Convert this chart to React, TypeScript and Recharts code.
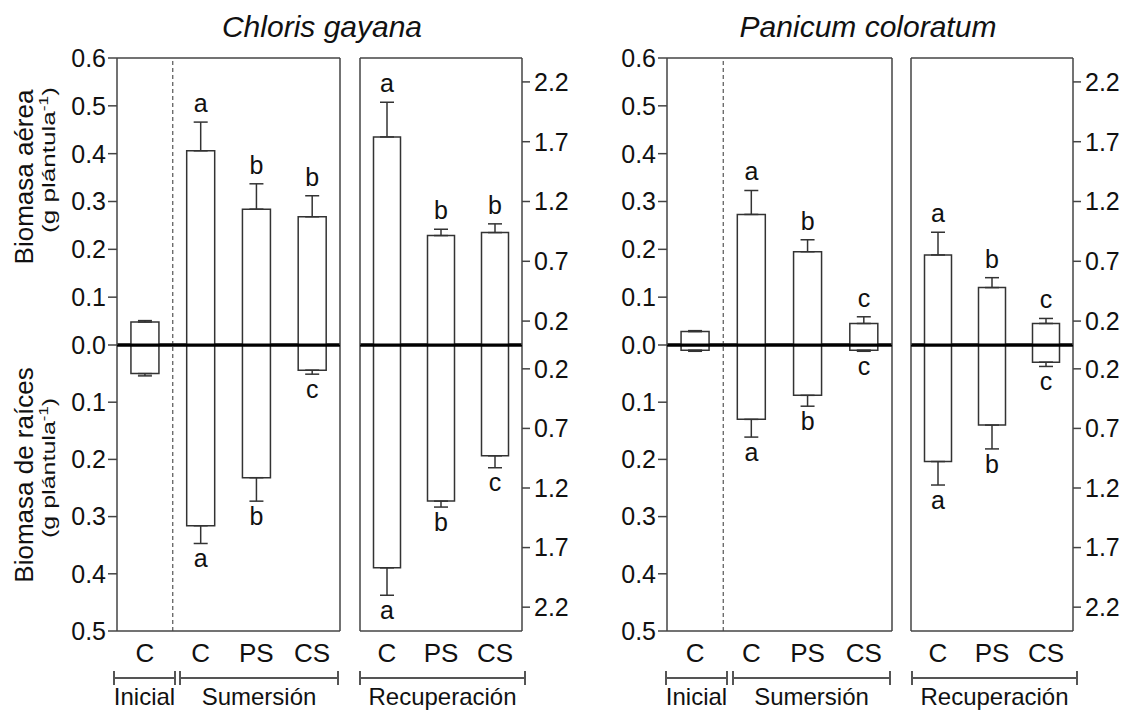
import React from "react";
import {
  Bar,
  ComposedChart,
  ErrorBar,
  LabelList,
  Line,
  ReferenceLine,
  XAxis,
  YAxis,
} from "recharts";

const FONT = "'Liberation Sans', Arial, Helvetica, sans-serif";
const INK = "#111";
const BOX = "#444";

// categories (group|treatment)
const SUM_CATS = ["Inicial|C", "Sumersión|C", "Sumersión|PS", "Sumersión|CS"];
const REC_CATS = ["Recuperación|C", "Recuperación|PS", "Recuperación|CS"];

// axis ticks / ranges
const SUM_UP_TICKS = [0, 0.1, 0.2, 0.3, 0.4, 0.5, 0.6];
const SUM_DOWN_TICKS = [0.1, 0.2, 0.3, 0.4, 0.5];
const REC_TICKS = [0.2, 0.7, 1.2, 1.7, 2.2];
const SUM_UP_MAX = 0.6;
const SUM_DOWN_MAX = 0.5;
const REC_MAX = 2.4;

// Chloris gayana (g plántula-1), error = ES
const CG_AEREA_SUM = [0.048, 0.406, 0.284, 0.268];
const CG_AEREA_SUM_ES = [0.003, 0.06, 0.053, 0.044];
const CG_AEREA_SUM_LET = ["", "a", "b", "b"];
const CG_RAIZ_SUM = [0.05, 0.316, 0.232, 0.044];
const CG_RAIZ_SUM_ES = [0.004, 0.031, 0.041, 0.007];
const CG_RAIZ_SUM_LET = ["", "a", "b", "c"];
const CG_AEREA_REC = [1.74, 0.915, 0.94];
const CG_AEREA_REC_ES = [0.29, 0.053, 0.073];
const CG_AEREA_REC_LET = ["a", "b", "b"];
const CG_RAIZ_REC = [1.87, 1.31, 0.93];
const CG_RAIZ_REC_ES = [0.23, 0.05, 0.1];
const CG_RAIZ_REC_LET = ["a", "b", "c"];

// Panicum coloratum
const PC_AEREA_SUM = [0.028, 0.273, 0.195, 0.045];
const PC_AEREA_SUM_ES = [0.002, 0.05, 0.025, 0.014];
const PC_AEREA_SUM_LET = ["", "a", "b", "c"];
const PC_RAIZ_SUM = [0.009, 0.13, 0.088, 0.009];
const PC_RAIZ_SUM_ES = [0.002, 0.031, 0.019, 0.002];
const PC_RAIZ_SUM_LET = ["", "a", "b", "c"];
const PC_AEREA_REC = [0.753, 0.48, 0.18];
const PC_AEREA_REC_ES = [0.19, 0.083, 0.042];
const PC_AEREA_REC_LET = ["a", "b", "c"];
const PC_RAIZ_REC = [0.978, 0.672, 0.144];
const PC_RAIZ_REC_ES = [0.197, 0.2, 0.036];
const PC_RAIZ_REC_LET = ["a", "b", "c"];

// page layout (px)
const TOP = 58;
const ZERO = 345;
const BOTTOM = 631;

type Row = { cat: string; val: number; err: number; letter: string };

const rows = (cats: string[], vals: number[], errs: number[], letters: string[]): Row[] =>
  cats.map((cat, i) => ({ cat, val: vals[i], err: errs[i], letter: letters[i] }));

const fmt = (v: number) => v.toFixed(1);

// one half of a framed box: aerial part (up) or root part (down, reversed axis)
function Half({
  data,
  x0,
  x1,
  up,
  side,
  max,
  ticks,
  dashed = false,
}: {
  data: Row[];
  x0: number;
  x1: number;
  up: boolean;
  side: "left" | "right";
  max: number;
  ticks: number[];
  dashed?: boolean;
}) {
  // axes drawn only as frame lines get 1px (a 0px axis is not rendered)
  const leftW = side === "left" ? 117 : 1;
  const rightW = side === "right" ? 60 : 1;
  const topH = 1;
  const botH = up ? 1 : 44;
  const margin = up
    ? { top: 20, right: 2, bottom: 16, left: 2 }
    : { top: 4, right: 2, bottom: 0, left: 2 };
  const plotH = up ? ZERO - TOP : BOTTOM - ZERO;
  const width = margin.left + leftW + (x1 - x0) + rightW + margin.right;
  const height = margin.top + topH + plotH + botH + margin.bottom;
  const left = x0 - leftW - margin.left;
  const top = (up ? TOP : ZERO) - margin.top - topH;
  const yId = side === "left" ? "l" : "r";
  const boxLine = { stroke: BOX, strokeWidth: 1.5 };
  const zeroLine = { stroke: "#000", strokeWidth: 3 };
  const tickStyle = { fontSize: 25, fill: INK };

  return (
    <div style={{ position: "absolute", left, top }}>
      <ComposedChart width={width} height={height} data={data} margin={margin} barCategoryGap="25%">
        <XAxis
          xAxisId="b"
          dataKey="cat"
          orientation="bottom"
          height={botH}
          axisLine={up ? zeroLine : boxLine}
          tickLine={false}
          tick={up ? false : { fontSize: 26, fill: INK }}
          tickSize={6}
          tickMargin={7}
          interval={0}
          tickFormatter={(v) => String(v).split("|")[1]}
        />
        <XAxis
          xAxisId="t"
          dataKey="cat"
          orientation="top"
          height={topH}
          axisLine={up ? boxLine : zeroLine}
          tick={false}
          tickLine={false}
        />
        <YAxis
          yAxisId="l"
          orientation="left"
          type="number"
          width={leftW}
          domain={[0, max]}
          ticks={ticks}
          reversed={!up}
          interval={0}
          axisLine={boxLine}
          tick={side === "left" ? tickStyle : false}
          tickLine={side === "left" ? boxLine : false}
          tickSize={9}
          tickMargin={2}
          tickFormatter={fmt}
        />
        <YAxis
          yAxisId="r"
          orientation="right"
          type="number"
          width={rightW}
          domain={[0, max]}
          ticks={ticks}
          reversed={!up}
          interval={0}
          axisLine={boxLine}
          tick={side === "right" ? tickStyle : false}
          tickLine={side === "right" ? boxLine : false}
          tickSize={8}
          tickMargin={4}
          tickFormatter={fmt}
        />
        {dashed && (
          <ReferenceLine
            xAxisId="b"
            yAxisId={yId}
            x={data[0].cat}
            position="end"
            stroke="#555"
            strokeWidth={1.2}
            strokeDasharray="4 3"
          />
        )}
        <Bar
          xAxisId="b"
          yAxisId={yId}
          dataKey="val"
          fill="#fff"
          stroke="#333"
          strokeWidth={1.5}
          isAnimationActive={false}
        >
          <ErrorBar
            dataKey={(d: Row) => [0, d.err]}
            width={7}
            stroke="#333"
            strokeWidth={1.5}
            direction="y"
          />
        </Bar>
        <Line
          xAxisId="b"
          yAxisId={yId}
          dataKey={(d: Row) => d.val + d.err}
          stroke="none"
          dot={false}
          activeDot={false}
          legendType="none"
          isAnimationActive={false}
        >
          <LabelList
            dataKey="letter"
            position={up ? "top" : "bottom"}
            offset={up ? 10 : 6}
            fill={INK}
            fontSize={25}
          />
        </Line>
      </ComposedChart>
    </div>
  );
}

function Species({
  sum,
  rec,
  aereaSum,
  raizSum,
  aereaRec,
  raizRec,
}: {
  sum: [number, number];
  rec: [number, number];
  aereaSum: Row[];
  raizSum: Row[];
  aereaRec: Row[];
  raizRec: Row[];
}) {
  return (
    <>
      <Half data={raizSum} x0={sum[0]} x1={sum[1]} up={false} side="left" max={SUM_DOWN_MAX} ticks={SUM_DOWN_TICKS} dashed />
      <Half data={raizRec} x0={rec[0]} x1={rec[1]} up={false} side="right" max={REC_MAX} ticks={REC_TICKS} />
      <Half data={aereaSum} x0={sum[0]} x1={sum[1]} up side="left" max={SUM_UP_MAX} ticks={SUM_UP_TICKS} dashed />
      <Half data={aereaRec} x0={rec[0]} x1={rec[1]} up side="right" max={REC_MAX} ticks={REC_TICKS} />
    </>
  );
}

const BRACKETS = [
  { x1: 114, x2: 175, label: "Inicial" },
  { x1: 180, x2: 338, label: "Sumersión" },
  { x1: 360, x2: 525, label: "Recuperación" },
  { x1: 666, x2: 727, label: "Inicial" },
  { x1: 733, x2: 890, label: "Sumersión" },
  { x1: 912, x2: 1077, label: "Recuperación" },
];

function Annotations() {
  const by = 678;
  return (
    <svg
      width={1125}
      height={711}
      style={{ position: "absolute", left: 0, top: 0, pointerEvents: "none" }}
      fontFamily={FONT}
    >
      <text x={322} y={37} fontSize={30} fontStyle="italic" textAnchor="middle" fill={INK}>
        Chloris gayana
      </text>
      <text x={868} y={37} fontSize={30} fontStyle="italic" textAnchor="middle" fill={INK}>
        Panicum coloratum
      </text>

      <text x={33} y={177} transform="rotate(-90 33 177)" fontSize={26} textAnchor="middle" fill={INK}>
        Biomasa aérea
      </text>
      <text
        x={55}
        y={160}
        transform="rotate(-90 55 160)"
        fontSize={18}
        textAnchor="middle"
        fill={INK}
        textLength={146}
        lengthAdjust="spacingAndGlyphs"
      >
        (g plántula<tspan dy={-7} fontSize={12}>-1</tspan>
        <tspan dy={7}>)</tspan>
      </text>
      <text x={33} y={475} transform="rotate(-90 33 475)" fontSize={26} textAnchor="middle" fill={INK}>
        Biomasa de raíces
      </text>
      <text
        x={55}
        y={468}
        transform="rotate(-90 55 468)"
        fontSize={18}
        textAnchor="middle"
        fill={INK}
        textLength={140}
        lengthAdjust="spacingAndGlyphs"
      >
        (g plántula<tspan dy={-7} fontSize={12}>-1</tspan>
        <tspan dy={7}>)</tspan>
      </text>

      {BRACKETS.map((b) => (
        <g key={b.x1} stroke="#555" strokeWidth={2}>
          <line x1={b.x1} x2={b.x2} y1={by} y2={by} />
          <line x1={b.x1} x2={b.x1} y1={by - 7} y2={by + 7} />
          <line x1={b.x2} x2={b.x2} y1={by - 7} y2={by + 7} />
          <text
            x={(b.x1 + b.x2) / 2}
            y={705}
            fontSize={24}
            textAnchor="middle"
            fill={INK}
            stroke="none"
          >
            {b.label}
          </text>
        </g>
      ))}
    </svg>
  );
}

export default function App() {
  return (
    <div
      style={{
        position: "absolute",
        left: 0,
        top: 0,
        width: 1125,
        height: 711,
        background: "#fff",
        fontFamily: FONT,
        overflow: "hidden",
      }}
    >
      <Species
        sum={[117, 340]}
        rec={[360, 522]}
        aereaSum={rows(SUM_CATS, CG_AEREA_SUM, CG_AEREA_SUM_ES, CG_AEREA_SUM_LET)}
        raizSum={rows(SUM_CATS, CG_RAIZ_SUM, CG_RAIZ_SUM_ES, CG_RAIZ_SUM_LET)}
        aereaRec={rows(REC_CATS, CG_AEREA_REC, CG_AEREA_REC_ES, CG_AEREA_REC_LET)}
        raizRec={rows(REC_CATS, CG_RAIZ_REC, CG_RAIZ_REC_ES, CG_RAIZ_REC_LET)}
      />
      <Species
        sum={[667, 892]}
        rec={[911, 1073]}
        aereaSum={rows(SUM_CATS, PC_AEREA_SUM, PC_AEREA_SUM_ES, PC_AEREA_SUM_LET)}
        raizSum={rows(SUM_CATS, PC_RAIZ_SUM, PC_RAIZ_SUM_ES, PC_RAIZ_SUM_LET)}
        aereaRec={rows(REC_CATS, PC_AEREA_REC, PC_AEREA_REC_ES, PC_AEREA_REC_LET)}
        raizRec={rows(REC_CATS, PC_RAIZ_REC, PC_RAIZ_REC_ES, PC_RAIZ_REC_LET)}
      />
      <Annotations />
    </div>
  );
}
